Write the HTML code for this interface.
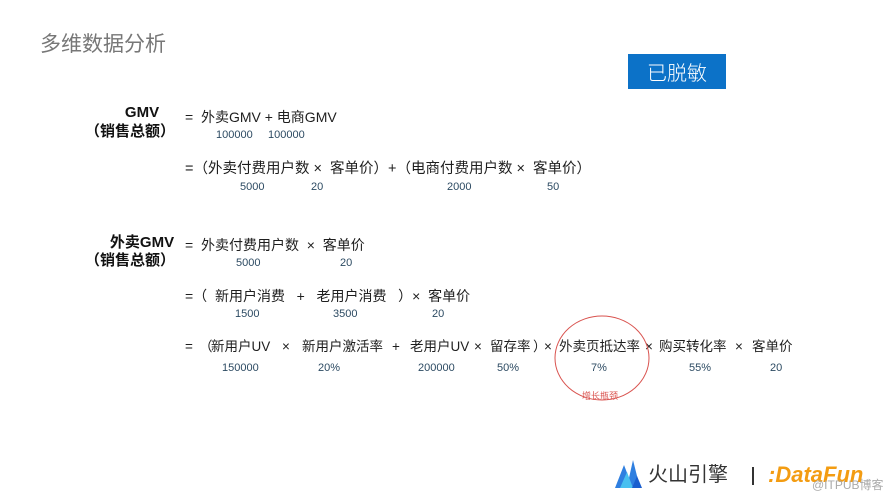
<!DOCTYPE html>
<html><head><meta charset="utf-8"><style>
body{margin:0;width:890px;height:501px;background:#fff;position:relative;overflow:hidden;font-family:"Liberation Sans","Noto Sans CJK SC",sans-serif;color:#222}
.t{position:absolute;white-space:pre;font-size:13.5px;line-height:14px;color:#1e1e1e}
.n{position:absolute;white-space:pre;font-size:11px;line-height:12px;color:#2c4a62}
.b{position:absolute;white-space:pre;font-size:15px;font-weight:bold;line-height:17px;color:#111;text-align:center;width:120px}
</style></head><body>
<div class="t" style="left:40px;top:33px;font-size:21px;line-height:23px;color:#777">多维数据分析</div>
<div style="position:absolute;left:628px;top:54px;width:98px;height:35px;background:#0c72c8;color:#fff;font-size:20px;line-height:35px;text-align:center;font-family:'Noto Sans CJK SC',sans-serif;font-weight:300">已脱敏</div>

<div class="b" style="left:82px;top:104px">GMV</div>
<div class="b" style="left:70px;top:123px">（销售总额）</div>
<div class="t" style="left:185px;top:110px;font-size:14px">=  外卖GMV + 电商GMV</div>
<div class="n" style="left:216px;top:129px">100000</div>
<div class="n" style="left:268px;top:129px">100000</div>

<div class="t" style="left:185px;top:162px;font-size:14.5px">=（外卖付费用户数 ×  客单价）+（电商付费用户数 ×  客单价）</div>
<div class="n" style="left:240px;top:181px">5000</div>
<div class="n" style="left:311px;top:181px">20</div>
<div class="n" style="left:447px;top:181px">2000</div>
<div class="n" style="left:547px;top:181px">50</div>

<div class="b" style="left:82px;top:234px">外卖GMV</div>
<div class="b" style="left:70px;top:252px">（销售总额）</div>
<div class="t" style="left:185px;top:238px;font-size:14px">=  外卖付费用户数  ×  客单价</div>
<div class="n" style="left:236px;top:257px">5000</div>
<div class="n" style="left:340px;top:257px">20</div>

<div class="t" style="left:185px;top:289px;font-size:14px">=（  新用户消费   +   老用户消费   ）×  客单价</div>
<div class="n" style="left:235px;top:308px">1500</div>
<div class="n" style="left:333px;top:308px">3500</div>
<div class="n" style="left:432px;top:308px">20</div>

<div class="t" style="left:185px;top:340px">=</div>
<div class="t" style="left:199px;top:340px">（</div>
<div class="t" style="left:211px;top:340px">新用户UV</div>
<div class="t" style="left:282px;top:340px">×</div>
<div class="t" style="left:302px;top:340px">新用户激活率</div>
<div class="t" style="left:392px;top:340px">+</div>
<div class="t" style="left:410px;top:340px">老用户UV</div>
<div class="t" style="left:474px;top:340px">×</div>
<div class="t" style="left:490px;top:340px">留存率</div>
<div class="t" style="left:533px;top:340px">）</div>
<div class="t" style="left:544px;top:340px">×</div>
<div class="t" style="left:559px;top:340px">外卖页抵达率</div>
<div class="t" style="left:645px;top:340px">×</div>
<div class="t" style="left:659px;top:340px">购买转化率</div>
<div class="t" style="left:735px;top:340px">×</div>
<div class="t" style="left:752px;top:340px">客单价</div>
<div class="n" style="left:222px;top:362px">150000</div>
<div class="n" style="left:318px;top:362px">20%</div>
<div class="n" style="left:418px;top:362px">200000</div>
<div class="n" style="left:497px;top:362px">50%</div>
<div class="n" style="left:591px;top:362px">7%</div>
<div class="n" style="left:689px;top:362px">55%</div>
<div class="n" style="left:770px;top:362px">20</div>

<svg style="position:absolute;left:0;top:0" width="890" height="501">
<ellipse cx="602" cy="358" rx="47" ry="42" fill="none" stroke="#d9534f" stroke-width="1"/>
<polygon points="615,488 624,465 629,478 633,460 640,488" fill="#2f7fe0"/>
<polygon points="620,488 627,472 633,488" fill="#49c0f0"/>
<polygon points="632,488 637,476 642,488" fill="#1a5fcf"/>
</svg>
<div class="t" style="left:582px;top:391px;font-size:9px;line-height:10px;color:#d9534f">增长瓶颈</div>
<div class="t" style="left:648px;top:464px;font-size:20px;line-height:22px;color:#333">火山引擎</div>
<div style="position:absolute;left:752px;top:467px;width:2px;height:18px;background:#333"></div>
<div class="t" style="left:768px;top:463px;font-size:22px;line-height:24px;color:#f39c12;font-style:italic;font-weight:bold">:DataFun</div>
<div class="t" style="left:812px;top:478px;font-size:12px;line-height:14px;color:#aaa">@ITPUB博客</div>
</body></html>
